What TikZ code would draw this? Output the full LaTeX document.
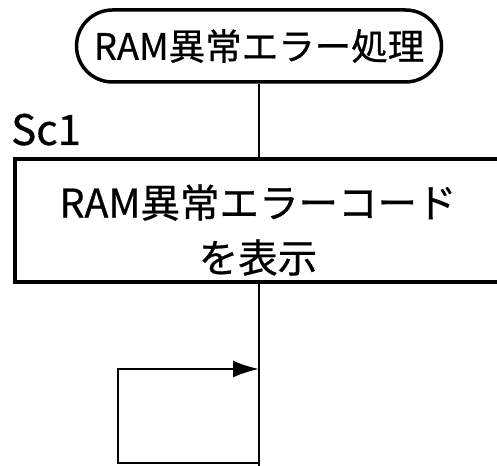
\documentclass[tikz,border=0pt]{standalone}
\usepackage{fontspec}
\setmainfont{Noto Sans CJK JP}[FakeBold=0.6]
\usetikzlibrary{arrows.meta}
\tikzset{
  termbox/.style={draw, line width=3.5pt, minimum width=365pt, minimum height=72pt, rounded corners=36pt, font=\fontsize{36.5}{40}\selectfont, inner sep=0pt},
  procbox/.style={draw, line width=4pt, minimum width=488pt, minimum height=123pt, inner sep=0pt},
  boxtext/.style={align=center, font=\fontsize{39.5}{55}\selectfont, inner sep=0pt},
  flow/.style={line width=2.3pt},
  lbl/.style={font=\fontsize{42}{44}\selectfont, inner sep=0pt, anchor=base west}
}
\begin{document}
\begin{tikzpicture}[x=1pt,y=-1pt]
\useasboundingbox (0,0) rectangle (497,465);
\clip (0,0) rectangle (497,465);
\node[termbox] (t) at (259,46) {RAM異常エラー処理};
\node[procbox] (b) at (259,220.5) {};
\node[boxtext] (bt) at (258,230) {RAM異常エラーコード\\を表示};
\node[lbl] (sc) at (11,145) {Sc1};
\coordinate (e) at (259,470);
\coordinate (j) at (259,369);
\coordinate (l1) at (118,369);
\coordinate (l2) at (118,463);
\coordinate (l3) at (259,463);
\draw[flow] (t.south) -- (b.north);
\draw[flow] (b.south) -- (e);
\draw[flow,-{Latex[length=26pt,width=17pt]}] (l3) -- (l2) -- (l1) -- (j);
\end{tikzpicture}
\end{document}
